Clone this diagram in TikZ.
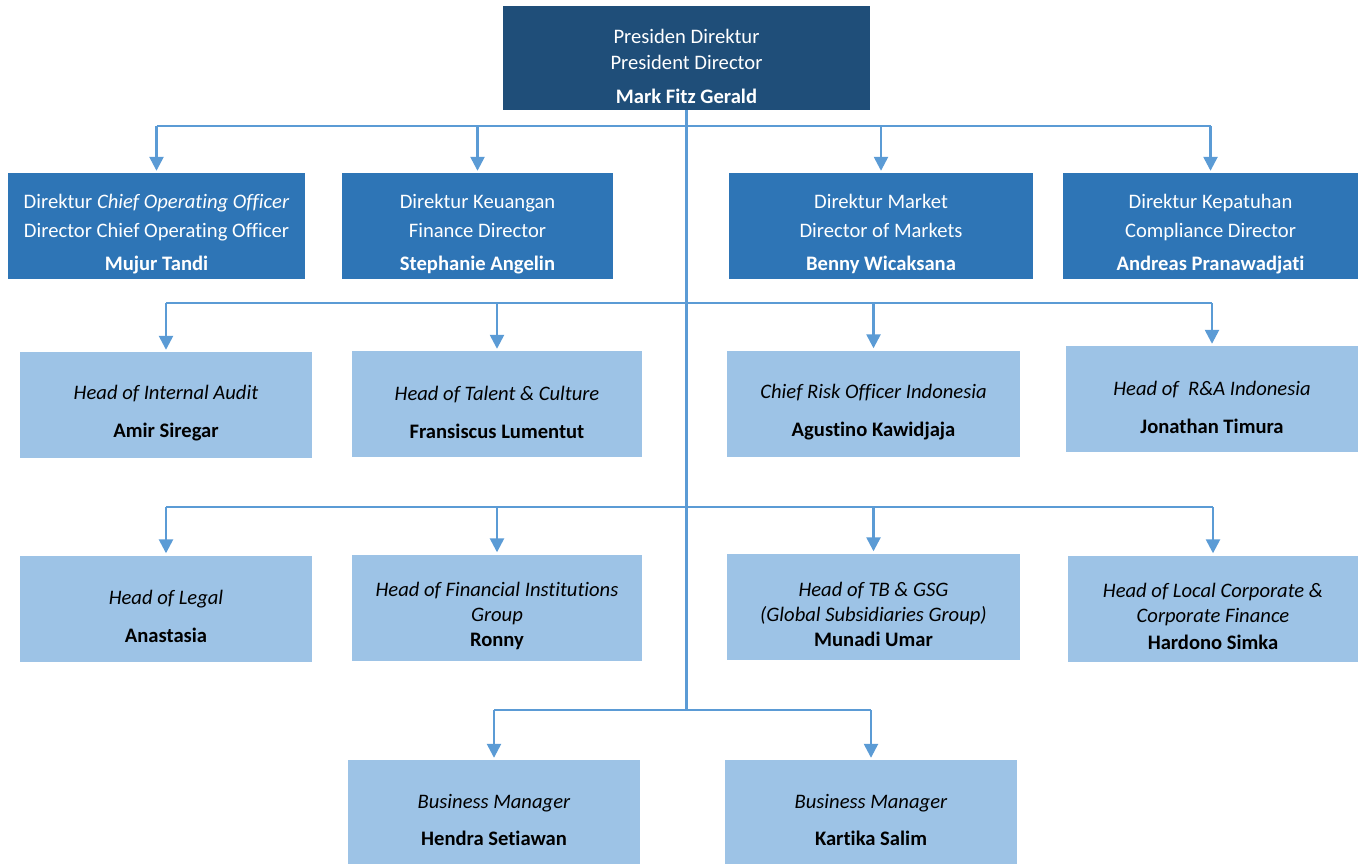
\documentclass[tikz,border=0pt]{standalone}
\usepackage{fontspec}
\setmainfont{Carlito}[Ligatures=CommonOff]
\usetikzlibrary{arrows.meta}
\definecolor{navy}{HTML}{1F4E79}
\definecolor{midblue}{HTML}{2E75B6}
\definecolor{lightblue}{HTML}{9DC3E6}
\definecolor{linkblue}{HTML}{5B9BD5}
\newcommand{\dropin}{\rule{0pt}{31pt}}

\begin{document}
\begin{tikzpicture}[x=1pt,y=-1pt,
    box/.style={rectangle,inner sep=0pt,align=center,font=\fontsize{20.6}{29}\selectfont},
    president/.style={box,fill=navy,text=white,minimum width=367pt,minimum height=104pt},
    director/.style={box,fill=midblue,text=white,minimum height=106pt},
    head/.style={box,fill=lightblue,text=black,minimum width=292pt,minimum height=106pt},
    link/.style={draw=linkblue,line width=2.5pt},
    arr/.style={link,-{Triangle[width=14pt,length=14pt]},shorten >=2pt}]
      \useasboundingbox (0,0) rectangle (1363,863);
      \clip (0,0) rectangle (1363,863);

      \node[president] (pd) at (686.5,58) {\dropin Presiden Direktur\\[-3pt]President Director\\[5pt]\textbf{Mark Fitz Gerald}};

      \node[director,minimum width=297pt] (coo) at (156.5,226) {\dropin Direktur \textit{Chief Operating Officer}\\Director Chief Operating Officer\\[4pt]\textbf{Mujur Tandi}};
      \node[director,minimum width=271pt] (fin) at (477.5,226) {\dropin Direktur Keuangan\\Finance Director\\[4pt]\textbf{Stephanie Angelin}};
      \node[director,minimum width=304pt] (mkt) at (881,226) {\dropin Direktur Market\\Director of Markets\\[4pt]\textbf{Benny Wicaksana}};
      \node[director,minimum width=295pt] (cmp) at (1210.5,226) {\dropin Direktur Kepatuhan\\Compliance Director\\[4pt]\textbf{Andreas Pranawadjati}};

      \node[head] (aud) at (166,405) {\dropin\textit{Head of Internal Audit}\\[9pt]\textbf{Amir Siregar}};
      \node[head,minimum width=290pt] (tal) at (497,404) {\dropin\textit{Head of Talent \& Culture}\\[9pt]\textbf{Fransiscus Lumentut}};
      \node[head,minimum width=293pt] (cro) at (873.5,403.5) {\dropin\textit{Chief Risk Officer Indonesia}\\[9pt]\textbf{Agustino Kawidjaja}};
      \node[head] (rna) at (1212,399) {\dropin\textit{Head of \ R\&A Indonesia}\\[9pt]\textbf{Jonathan Timura}};

      \node[head] (lgl) at (166,608.5) {\dropin\textit{Head of Legal}\\[9pt]\textbf{Anastasia}};
      \node[head,minimum width=290pt] (fig) at (497,607.5) {\dropin\textit{Head of Financial Institutions}\\[-4pt]\textit{Group}\\[-4pt]\textbf{Ronny}};
      \node[head,minimum width=293pt] (gsg) at (873.5,606.5) {\dropin\textit{Head of TB \& GSG}\\[-4pt]\textit{(Global Subsidiaries Group)}\\[-4pt]\textbf{Munadi Umar}};
      \node[head,minimum width=290pt] (lcf) at (1213,608.5) {\dropin\textit{Head of Local Corporate \&}\\[-4pt]\textit{Corporate Finance}\\[-2pt]\textbf{Hardono Simka}};

      \node[head,minimum height=104pt] (bm1) at (494,812) {\dropin\textit{Business Manager}\\[8pt]\textbf{Hendra Setiawan}};
      \node[head,minimum height=104pt] (bm2) at (871,812) {\dropin\textit{Business Manager}\\[8pt]\textbf{Kartika Salim}};

      \coordinate (bus1) at (686.5,126);
      \coordinate (bus2) at (686.5,303);
      \coordinate (bus3) at (686.5,507);
      \coordinate (bus4) at (686.5,710);

      \draw[link] (pd.south) -- (bus4);
      \draw[link] (coo.north |- bus1) -- (cmp.north |- bus1);
      \draw[link] (aud.north |- bus2) -- (rna.north |- bus2);
      \draw[link] (lgl.north |- bus3) -- (lcf.north |- bus3);
      \draw[link] (bm1.north |- bus4) -- (bm2.north |- bus4);

      \foreach \n in {coo,fin,mkt,cmp}
        \draw[arr] (\n.north |- bus1) -- (\n.north);
      \foreach \n in {aud,tal,cro,rna}
        \draw[arr] (\n.north |- bus2) -- (\n.north);
      \foreach \n in {lgl,fig,gsg,lcf}
        \draw[arr] (\n.north |- bus3) -- (\n.north);
      \foreach \n in {bm1,bm2}
        \draw[arr] (\n.north |- bus4) -- (\n.north);

    \end{tikzpicture}
\end{document}
